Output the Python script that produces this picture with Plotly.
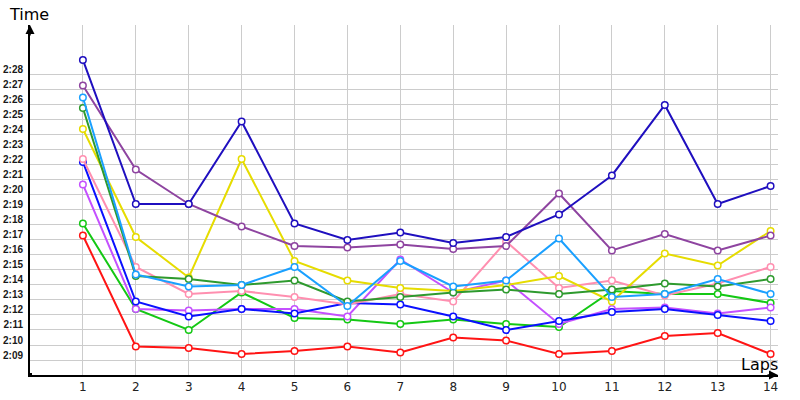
import plotly.graph_objects as go

laps = list(range(1, 15))

# lap times in seconds (2:xx -> 120 + xx)
navy      = [149.0, 139.4, 139.4, 144.9, 138.1, 137.0, 137.5, 136.8, 137.2, 138.7, 141.3, 146.0, 139.4, 140.6]
purple    = [147.3, 141.7, 139.4, 137.9, 136.6, 136.5, 136.7, 136.4, 136.6, 140.1, 136.3, 137.4, 136.3, 137.3]
lightblue = [146.5, 134.7, 133.9, 134.0, 135.2, 132.6, 135.6, 133.9, 134.3, 137.1, 133.2, 133.4, 134.4, 133.4]
darkgreen = [145.8, 134.6, 134.4, 134.0, 134.3, 132.9, 133.2, 133.5, 133.7, 133.4, 133.7, 134.1, 133.9, 134.4]
yellow    = [144.4, 137.2, 134.5, 142.4, 135.6, 134.3, 133.8, 133.6, 134.0, 134.6, 132.9, 136.1, 135.3, 137.6]
pink      = [142.4, 135.2, 133.4, 133.6, 133.2, 132.7, 133.4, 132.9, 136.9, 133.8, 134.3, 133.3, 134.1, 135.2]
blue      = [142.2, 132.9, 131.9, 132.4, 132.1, 132.8, 132.7, 131.9, 131.0, 131.6, 132.2, 132.4, 132.0, 131.6]
violet    = [140.7, 132.4, 132.3, 132.4, 132.4, 131.9, 135.7, 133.5, 134.3, 131.4, 132.4, 132.5, 132.1, 132.5]
green     = [138.1, 132.4, 131.0, 133.5, 131.8, 131.7, 131.4, 131.7, 131.4, 131.2, 133.6, 133.4, 133.4, 132.8]
red       = [137.3, 129.9, 129.8, 129.4, 129.6, 129.9, 129.5, 130.5, 130.3, 129.4, 129.6, 130.6, 130.8, 129.4]

y_tick_vals = list(range(129, 149))
y_tick_text = ["2:%02d" % (v - 120) for v in y_tick_vals]

series = [
    (red, "#ff1414"),
    (green, "#14c814"),
    (violet, "#c450ff"),
    (blue, "#0a10ff"),
    (pink, "#ff8fb0"),
    (yellow, "#e6dc00"),
    (darkgreen, "#2e9a2e"),
    (lightblue, "#1aa0ff"),
    (purple, "#8e44a0"),
    (navy, "#1f0fbf"),
]

fig = go.Figure()
for vals, col in series:
    fig.add_trace(go.Scatter(
        x=laps, y=vals, mode="lines+markers",
        line=dict(color=col, width=2),
        marker=dict(symbol="circle", size=6.5, color="white", line=dict(color=col, width=1.5)),
        showlegend=False, hoverinfo="skip",
    ))

fig.update_layout(
    width=800, height=400,
    margin=dict(l=30, r=22, t=25, b=25, autoexpand=False),
    paper_bgcolor="white", plot_bgcolor="white",
    font=dict(family="DejaVu Sans", color="#222"),
    xaxis=dict(
        range=[0, 14.14], tickvals=laps, ticktext=[str(v) for v in laps],
        showgrid=True, gridcolor="#cccccc", gridwidth=1,
        showline=True, linecolor="black", linewidth=2,
        zeroline=False, ticks="", tickfont=dict(size=12, color="#222"),
        automargin=False,
    ),
    yaxis=dict(
        range=[128, 151.33], tickvals=y_tick_vals, ticktext=y_tick_text,
        showgrid=True, gridcolor="#cccccc", gridwidth=1,
        showline=True, linecolor="black", linewidth=2,
        zeroline=False, ticks="",
        tickfont=dict(family="Liberation Sans", size=10, color="#1a1a1a", weight="bold"),
        ticklabelshift=-5, ticklabelstandoff=3, automargin=False,
    ),
    annotations=[
        dict(text="Time", xref="paper", yref="paper", x=-0.031, y=1.0286,
             xanchor="left", yanchor="middle", showarrow=False,
             font=dict(size=16, color="black")),
        dict(text="Laps", xref="paper", yref="paper", x=0.9746, y=0.0314,
             xanchor="center", yanchor="middle", showarrow=False,
             font=dict(size=16, color="black")),
        dict(text="", xref="x", yref="paper", x=0, y=1, ax=0, ay=12,
             showarrow=True, arrowhead=2, arrowsize=1.2, arrowwidth=1.5, arrowcolor="black"),
        dict(text="", xref="paper", yref="y", x=1, y=128, ax=-12, ay=0,
             showarrow=True, arrowhead=2, arrowsize=1.2, arrowwidth=1.5, arrowcolor="black"),
    ],
    shapes=[
        dict(type="rect", xref="x", yref="y", xsizemode="pixel", ysizemode="pixel",
             xanchor=0, yanchor=128, x0=-2, x1=2, y0=-2, y1=2,
             fillcolor="black", line=dict(width=0)),
    ],
)

fig.write_html("out.html")
